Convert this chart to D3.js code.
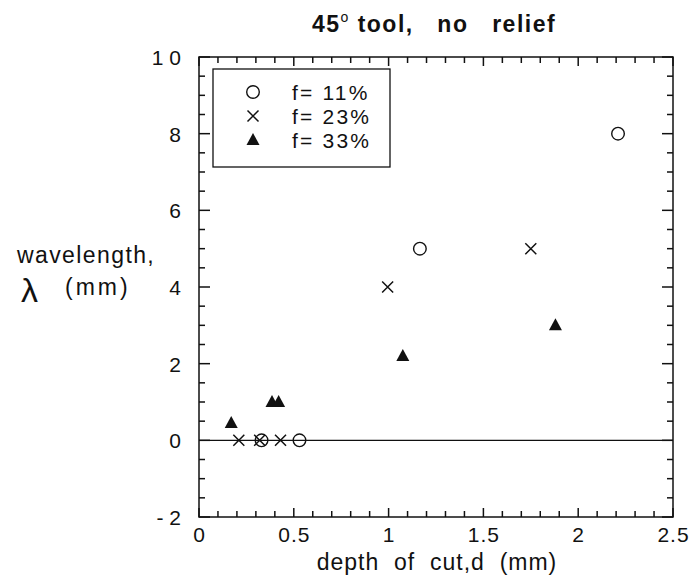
<!DOCTYPE html>
<html><head><meta charset="utf-8">
<script src="https://cdn.jsdelivr.net/npm/d3@7"></script>
<style>
body{margin:0;background:#fff;}
text{font-family:"Liberation Sans",Arial,Helvetica,sans-serif;fill:#111;white-space:pre;}
</style></head>
<body>
<svg id="c" width="690" height="576"></svg>
<script>
const xTicks = [0, 0.5, 1, 1.5, 2, 2.5];
const xTickLabels = ["0", "0.5", "1", "1.5", "2", "2.5"];
const yTicks = [-2, 0, 2, 4, 6, 8, 10];
const yTickLabels = ["- 2", "0", "2", "4", "6", "8", "1 0"];
const seriesNames = ["f= 11%", "f= 23%", "f= 33%"];
const f11x = [0.33, 0.53, 1.165, 2.21];
const f11y = [0, 0, 5, 8];
const f23x = [0.21, 0.32, 0.43, 0.995, 1.75];
const f23y = [0, 0, 0, 4, 5];
const f33x = [0.17, 0.385, 0.42, 1.075, 1.88];
const f33y = [0.45, 1.0, 1.0, 2.2, 3.0];

const svg = d3.select("#c");
const L = 199, R = 673, T = 57, B = 517;
const x = d3.scaleLinear().domain([0, 2.5]).range([L, R]);
const y = d3.scaleLinear().domain([-2, 10]).range([B, T]);

const g = svg.append("g");
g.append("rect").attr("x", L).attr("y", T).attr("width", R - L).attr("height", B - T)
  .attr("fill", "none").attr("stroke", "#111").attr("stroke-width", 1.5);

const xMinor = d3.range(0, 2.5001, 0.1);
const yMinor = d3.range(-2, 10.001, 0.5);
function isMajorX(v){ return Math.abs(v*2 - Math.round(v*2)) < 1e-6; }
function isMajorY(v){ return Math.abs(v/2 - Math.round(v/2)) < 1e-6; }

const tickG = g.append("g");
xMinor.forEach(v => {
  const len = isMajorX(v) ? 9 : 6;
  tickG.append("line").attr("x1", x(v)).attr("x2", x(v)).attr("y1", B).attr("y2", B - len);
  tickG.append("line").attr("x1", x(v)).attr("x2", x(v)).attr("y1", T).attr("y2", T + len);
});
yMinor.forEach(v => {
  const len = isMajorY(v) ? 11 : 6;
  tickG.append("line").attr("y1", y(v)).attr("y2", y(v)).attr("x1", L).attr("x2", L + len);
  tickG.append("line").attr("y1", y(v)).attr("y2", y(v)).attr("x1", R).attr("x2", R - len);
});
tickG.selectAll("line").attr("stroke", "#111").attr("stroke-width", 1.5);

const xAxis = d3.axisBottom(x).tickValues(xTicks).tickSize(0).tickPadding(0)
  .tickFormat((d, i) => xTickLabels[i]);
const xa = g.append("g").attr("transform", `translate(0,${B + 25})`).call(xAxis);
xa.select(".domain").remove();
xa.selectAll("text").attr("font-size", 21).attr("dy", 0).attr("letter-spacing", 1)
  .attr("font-family", "Liberation Sans, Arial").attr("fill", "#111");

const yAxis = d3.axisLeft(y).tickValues(yTicks).tickSize(0).tickPadding(0)
  .tickFormat((d, i) => yTickLabels[i]);
const ya = g.append("g").attr("transform", `translate(${L - 18},0)`).call(yAxis);
ya.select(".domain").remove();
ya.selectAll("text").attr("font-size", 21).attr("dy", "0.35em")
  .attr("font-family", "Liberation Sans, Arial").attr("fill", "#111");

g.append("line").attr("x1", x(0)).attr("x2", x(2.5)).attr("y1", y(0)).attr("y2", y(0))
  .attr("stroke", "#111").attr("stroke-width", 1.3);

const circleSym = (sel, cx, cy) => sel.append("circle").attr("cx", cx).attr("cy", cy).attr("r", 6.3)
  .attr("fill", "none").attr("stroke", "#111").attr("stroke-width", 1.4);
const crossSym = (sel, cx, cy) => {
  const s = 5.5;
  sel.append("path").attr("d", `M${cx-s},${cy-s}L${cx+s},${cy+s}M${cx-s},${cy+s}L${cx+s},${cy-s}`)
    .attr("stroke", "#111").attr("stroke-width", 1.5).attr("fill", "none");
};
const triSym = (sel, cx, cy) => {
  sel.append("path").attr("d", `M${cx},${cy-7}L${cx+6.5},${cy+5}L${cx-6.5},${cy+5}Z`).attr("fill", "#111");
};

const m = g.append("g");
f11x.forEach((v, i) => circleSym(m, x(v), y(f11y[i])));
f23x.forEach((v, i) => crossSym(m, x(v), y(f23y[i])));
f33x.forEach((v, i) => triSym(m, x(v), y(f33y[i])));

const lg = g.append("g");
lg.append("rect").attr("x", 213).attr("y", 69).attr("width", 177).attr("height", 98)
  .attr("fill", "#fff").attr("stroke", "#111").attr("stroke-width", 1.3);
const rowsY = [92, 116, 140];
const syms = [circleSym, crossSym, triSym];
seriesNames.forEach((n, i) => {
  syms[i](lg, 253, rowsY[i]);
  lg.append("text").attr("x", 292).attr("y", rowsY[i] + 8).attr("font-size", 21)
    .attr("letter-spacing", 2.2).text(n);
});

const title = svg.append("text").attr("x", 434).attr("y", 32).attr("text-anchor", "middle")
  .attr("font-size", 23).attr("font-weight", "bold").attr("letter-spacing", 1.5);
title.append("tspan").text("45");
title.append("tspan").attr("dy", -10).attr("font-size", 14).attr("font-weight", "normal").text("o");
title.append("tspan").attr("dy", 10).text(" tool,   no   relief");

svg.append("text").attr("x", 437).attr("y", 570).attr("text-anchor", "middle").attr("font-size", 23)
  .attr("letter-spacing", 1.0).text("depth  of  cut,d  (mm)");

svg.append("text").attr("x", 17).attr("y", 263).attr("font-size", 23).attr("letter-spacing", 1.4).text("wavelength,");
svg.append("text").attr("x", 21).attr("y", 302).attr("font-size", 34).text("λ");
svg.append("text").attr("x", 65).attr("y", 295).attr("font-size", 23).attr("letter-spacing", 3).text("(mm)");
</script>
</body></html>
